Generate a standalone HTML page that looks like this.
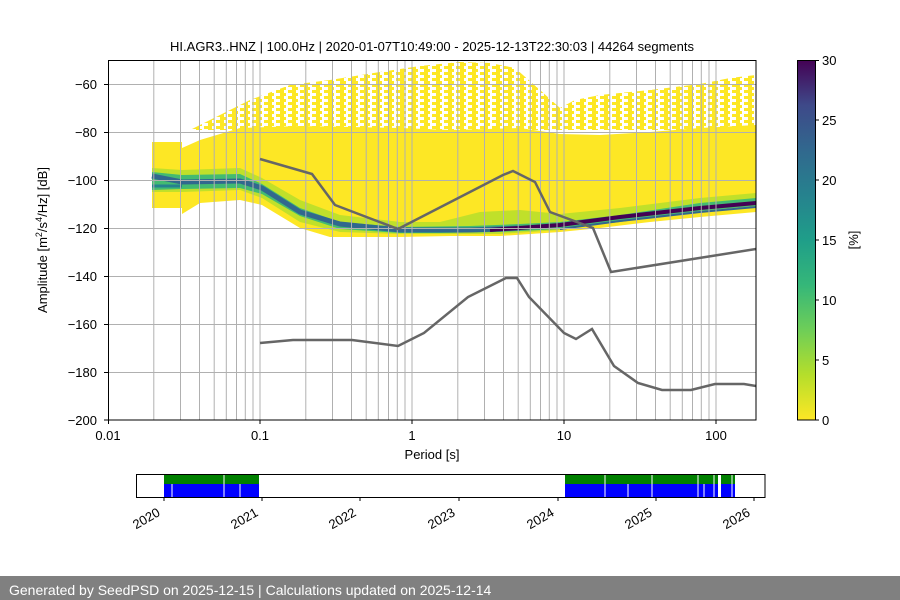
<!DOCTYPE html>
<html><head><meta charset="utf-8"><style>
body{margin:0;width:900px;height:600px;background:#fff;overflow:hidden;font-family:"Liberation Sans","DejaVu Sans",sans-serif}
svg{display:block}
</style></head><body>
<svg width="900" height="600" viewBox="0 0 900 600" xmlns="http://www.w3.org/2000/svg" font-family="Liberation Sans, DejaVu Sans, sans-serif">
<defs>
<pattern id="sp" width="12" height="6" patternUnits="userSpaceOnUse">
<rect x="0" y="0" width="8" height="3" fill="#fde725"/><rect x="4" y="3" width="6" height="3" fill="#fde725"/>
</pattern>
<linearGradient id="vir" x1="0" y1="1" x2="0" y2="0">
<stop offset="0" stop-color="#fde725"/><stop offset="0.125" stop-color="#b5de2b"/><stop offset="0.25" stop-color="#6ece58"/><stop offset="0.375" stop-color="#35b779"/><stop offset="0.5" stop-color="#1f9e89"/><stop offset="0.625" stop-color="#26828e"/><stop offset="0.75" stop-color="#31688e"/><stop offset="0.875" stop-color="#3e4989"/><stop offset="1" stop-color="#440154"/>
</linearGradient>
<clipPath id="ax"><rect x="108" y="60" width="648" height="360"/></clipPath>
</defs>
<text x="432" y="51" font-size="13" text-anchor="middle">HI.AGR3..HNZ | 100.0Hz | 2020-01-07T10:49:00 - 2025-12-13T22:30:03 | 44264 segments</text>
<g clip-path="url(#ax)">
<polygon fill="url(#sp)" points="190,130 220,115 250,100 290,85 330,80 380,72 420,66 460,62 490,63 515,68 540,90 560,108 575,100 600,95 650,90 700,84 730,78 756,75 756,130 560,130"/>
<polygon fill="#fde725" points="152,142 182,142 182,148 200,140 240,128 300,126 400,128 450,130 520,128 560,134 600,135 650,132 700,128 756,125 756,212 700,217 650,222 600,228 560,232 500,236 450,236 400,237 330,237 300,228 262,205 240,200 200,203 182,214 182,208 152,208"/>
<polygon fill="#b5de2b" opacity="0.85" points="152,168 182,170 240,168 262,178 300,200 340,215 400,222 440,222 480,212 520,210 560,214 620,208 700,198 756,193 756,205 700,210 620,220 560,230 500,234 440,234 400,234 340,232 300,222 262,198 240,190 182,192 152,192"/>
<polygon fill="#35b779" opacity="0.9" points="152,172 182,175 240,174 262,184 300,208 340,222 400,227 470,226 520,224 560,222 620,215 700,203 756,198 756,206 700,211 620,222 560,229 500,232 440,233 400,233 340,229 300,216 262,194 240,188 182,189 152,190"/>
<polyline fill="none" stroke="#31688e" stroke-width="5" points="152,176 182,182 240,181 262,188 300,212 340,224 400,230 470,230 520,228"/>
<polyline fill="none" stroke="#26828e" stroke-width="3" points="152,186 182,186"/>
<polyline fill="none" stroke="#440154" stroke-width="4" points="490,230 560,225 620,217 700,208 756,203"/>
<polyline fill="none" stroke="#31688e" stroke-width="2" points="560,229 620,221 700,212 756,207"/>
</g>
<g stroke="#b0b0b0" stroke-width="1">
<line x1="108" x2="756" y1="84.5" y2="84.5"/><line x1="108" x2="756" y1="132.5" y2="132.5"/><line x1="108" x2="756" y1="180.5" y2="180.5"/><line x1="108" x2="756" y1="228.5" y2="228.5"/><line x1="108" x2="756" y1="276.5" y2="276.5"/><line x1="108" x2="756" y1="324.5" y2="324.5"/><line x1="108" x2="756" y1="372.5" y2="372.5"/>
<g id="vg">
<line x1="153.8" x2="153.8" y1="60" y2="420"/><line x1="180.5" x2="180.5" y1="60" y2="420"/><line x1="199.5" x2="199.5" y1="60" y2="420"/><line x1="214.2" x2="214.2" y1="60" y2="420"/><line x1="226.3" x2="226.3" y1="60" y2="420"/><line x1="236.5" x2="236.5" y1="60" y2="420"/><line x1="245.3" x2="245.3" y1="60" y2="420"/><line x1="253" x2="253" y1="60" y2="420"/>
<line x1="260" x2="260" y1="60" y2="420"/>
</g>
<use href="#vg" x="152"/><use href="#vg" x="304"/><use href="#vg" x="456"/>
<line x1="716" x2="716" y1="60" y2="420"/>
</g>
<g clip-path="url(#ax)">
<polyline fill="none" stroke="#666" stroke-width="2.5" points="260,159 312,174 335,205 398,229 503,175 513,171 535,182 550,212 593,228 611,272 756,249"/>
<polyline fill="none" stroke="#666" stroke-width="2.5" points="260,343 293,340 352,340 398,346 424,333 468,297 506,278 517,278 529,297 564,333 576,339 592,329 614,366 638,383 662,390 691,390 715,384 744,384 756,386"/>
</g>
<rect x="108.5" y="60.5" width="647.5" height="359.5" fill="none" stroke="#000" stroke-width="1"/>
<g font-size="13" text-anchor="end">
<text x="97" y="89">−60</text><text x="97" y="137">−80</text><text x="97" y="185">−100</text><text x="97" y="233">−120</text><text x="97" y="281">−140</text><text x="97" y="329">−160</text><text x="97" y="377">−180</text><text x="97" y="425">−200</text>
</g>
<g stroke="#000"><line x1="104" x2="108" y1="84.5" y2="84.5"/><line x1="104" x2="108" y1="132.5" y2="132.5"/><line x1="104" x2="108" y1="180.5" y2="180.5"/><line x1="104" x2="108" y1="228.5" y2="228.5"/><line x1="104" x2="108" y1="276.5" y2="276.5"/><line x1="104" x2="108" y1="324.5" y2="324.5"/><line x1="104" x2="108" y1="372.5" y2="372.5"/><line x1="104" x2="108" y1="420" y2="420"/>
<line x1="108.5" x2="108.5" y1="420" y2="424"/><line x1="260" x2="260" y1="420" y2="424"/><line x1="412" x2="412" y1="420" y2="424"/><line x1="564" x2="564" y1="420" y2="424"/><line x1="716" x2="716" y1="420" y2="424"/></g>
<g font-size="13" text-anchor="middle">
<text x="108" y="440">0.01</text><text x="260" y="440">0.1</text><text x="412" y="440">1</text><text x="564" y="440">10</text><text x="716" y="440">100</text>
<text x="432" y="459">Period [s]</text>
</g>
<text transform="translate(47,240) rotate(-90)" font-size="13" text-anchor="middle">Amplitude [m<tspan font-size="9" dy="-5">2</tspan><tspan dy="5">/s</tspan><tspan font-size="9" dy="-5">4</tspan><tspan dy="5">/Hz] [dB]</tspan></text>
<rect x="797" y="60" width="18" height="360" fill="url(#vir)"/>
<rect x="797.5" y="60.5" width="18" height="359.5" fill="none" stroke="#000"/>
<g stroke="#000"><line x1="815" x2="819" y1="60.5" y2="60.5"/><line x1="815" x2="819" y1="120" y2="120"/><line x1="815" x2="819" y1="180" y2="180"/><line x1="815" x2="819" y1="240" y2="240"/><line x1="815" x2="819" y1="300" y2="300"/><line x1="815" x2="819" y1="360" y2="360"/><line x1="815" x2="819" y1="420" y2="420"/></g>
<g font-size="13"><text x="822" y="65">30</text><text x="822" y="125">25</text><text x="822" y="185">20</text><text x="822" y="245">15</text><text x="822" y="305">10</text><text x="822" y="365">5</text><text x="822" y="425">0</text></g>
<text transform="translate(858,240) rotate(-90)" font-size="13" text-anchor="middle">[%]</text>
<rect x="164" y="474" width="95" height="10" fill="#008000"/>
<rect x="164" y="484" width="95" height="13" fill="#0000ff"/>
<rect x="565" y="474" width="170" height="10" fill="#008000"/>
<rect x="565" y="484" width="170" height="13" fill="#0000ff"/>
<g stroke="#fff" stroke-width="1"><line x1="172" x2="172" y1="484" y2="497"/><line x1="224" x2="224" y1="474" y2="497"/><line x1="240" x2="240" y1="484" y2="497"/><line x1="605" x2="605" y1="474" y2="497"/><line x1="628" x2="628" y1="484" y2="497"/><line x1="652" x2="652" y1="474" y2="497"/><line x1="698" x2="698" y1="474" y2="497"/><line x1="704" x2="704" y1="484" y2="497"/><line x1="714" x2="714" y1="474" y2="497"/><line x1="732" x2="732" y1="474" y2="497"/></g>
<rect x="718" y="474" width="3" height="23" fill="#fff"/>
<rect x="136.5" y="474.5" width="628.5" height="23" fill="none" stroke="#000"/>
<g stroke="#000"><line x1="164" x2="164" y1="497" y2="501"/><line x1="262" x2="262" y1="497" y2="501"/><line x1="360" x2="360" y1="497" y2="501"/><line x1="459" x2="459" y1="497" y2="501"/><line x1="558" x2="558" y1="497" y2="501"/><line x1="656" x2="656" y1="497" y2="501"/><line x1="754" x2="754" y1="497" y2="501"/></g>
<g font-size="13" text-anchor="end">
<text transform="translate(161,515) rotate(-30)">2020</text>
<text transform="translate(259,515) rotate(-30)">2021</text>
<text transform="translate(357,515) rotate(-30)">2022</text>
<text transform="translate(456,515) rotate(-30)">2023</text>
<text transform="translate(555,515) rotate(-30)">2024</text>
<text transform="translate(653,515) rotate(-30)">2025</text>
<text transform="translate(751,515) rotate(-30)">2026</text>
</g>
<rect x="0" y="576" width="900" height="24" fill="#808080"/>
<text x="9" y="595" font-size="14" fill="#fff">Generated by SeedPSD on 2025-12-15 | Calculations updated on 2025-12-14</text>
</svg>
</body></html>
